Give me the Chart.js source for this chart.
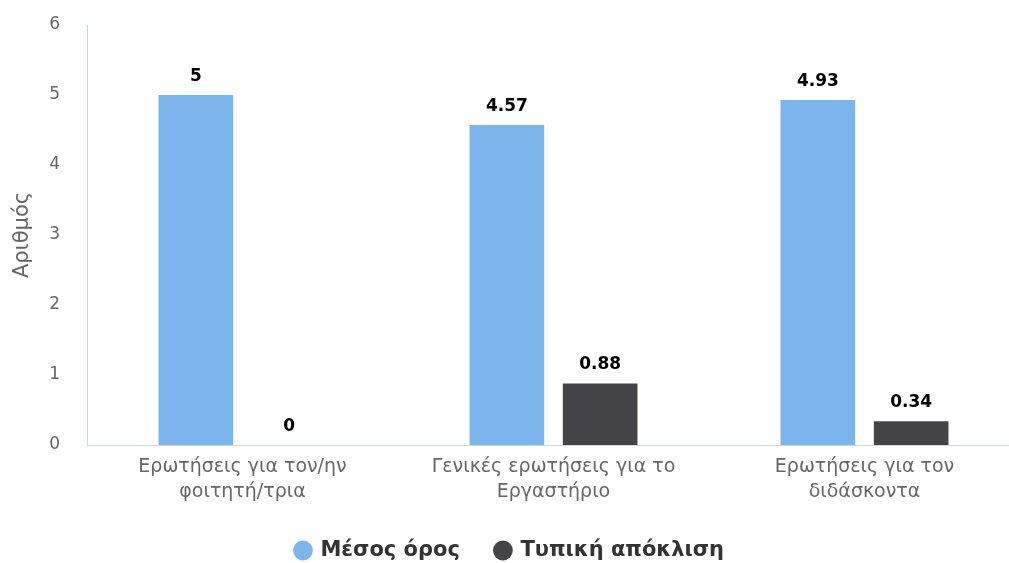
<!DOCTYPE html>
<html>
<head>
<meta charset="utf-8">
<script src="https://cdn.jsdelivr.net/npm/chart.js@4/dist/chart.umd.min.js"></script>
<style>
  html, body { margin: 0; padding: 0; background: #fff; overflow: hidden; }
  #chart { display: block; width: 1024px; height: 563px; }
</style>
</head>
<body>
<canvas id="chart" width="1024" height="563"></canvas>
<script>
// Μέσος όρος / Τυπική απόκλιση per question group
const categories = [
  ['Ερωτήσεις για τον/ην', 'φοιτητή/τρια'],
  ['Γενικές ερωτήσεις για το', 'Εργαστήριο'],
  ['Ερωτήσεις για τον', 'διδάσκοντα']
];
const meanValues = [5, 4.57, 4.93];
const stdValues = [0, 0.88, 0.34];
const yTicks = [0, 1, 2, 3, 4, 5, 6];

const FONT = 'DejaVu Sans, Verdana, sans-serif';

// draws the value over each bar
const valueLabels = {
  id: 'valueLabels',
  afterDatasetsDraw(chart) {
    const ctx = chart.ctx;
    ctx.save();
    ctx.font = 'bold 17px ' + FONT;
    ctx.fillStyle = '#000';
    ctx.textAlign = 'center';
    ctx.textBaseline = 'bottom';
    chart.data.datasets.forEach((ds, i) => {
      chart.getDatasetMeta(i).data.forEach((bar, j) => {
        ctx.fillText(String(ds.data[j]), bar.x, bar.y - 10);
      });
    });
    ctx.restore();
  }
};

new Chart(document.getElementById('chart'), {
  type: 'bar',
  data: {
    labels: categories,
    datasets: [
      { label: 'Μέσος όρος', data: meanValues, backgroundColor: '#7cb5ec' },
      { label: 'Τυπική απόκλιση', data: stdValues, backgroundColor: '#434348' }
    ]
  },
  options: {
    responsive: false,
    animation: false,
    categoryPercentage: 0.6,
    barPercentage: 0.8,
    layout: { padding: { top: 25, right: 4, left: 0, bottom: -8 } },
    plugins: {
      tooltip: { enabled: false },
      legend: {
        position: 'bottom',
        labels: {
          usePointStyle: true,
          pointStyle: 'circle',
          boxWidth: 14,
          boxHeight: 14,
          padding: 36,
          color: '#333',
          font: { family: FONT, size: 21, weight: 'bold' }
        }
      }
    },
    scales: {
      x: {
        afterFit: axis => { axis.height = 59; },
        grid: { display: false, drawTicks: false },
        border: { color: '#ccd6eb', width: 1 },
        ticks: {
          color: '#666',
          padding: 10,
          font: { family: FONT, size: 19, lineHeight: 1.3 },
          maxRotation: 0
        }
      },
      y: {
        min: 0,
        max: 6,
        afterBuildTicks: axis => { axis.ticks = yTicks.map(v => ({ value: v })); },
        afterFit: axis => {
          axis.width = 87;
          axis.paddingTop = 0;
          axis.paddingBottom = 0;
        },
        grid: { display: false, drawTicks: false },
        border: { color: '#ccd6eb', width: 1 },
        ticks: {
          color: '#666',
          padding: 27,
          font: { family: FONT, size: 17 }
        },
        title: {
          display: true,
          text: 'Αριθμός',
          color: '#666',
          padding: { top: 10 },
          font: { family: FONT, size: 21 }
        }
      }
    }
  },
  plugins: [valueLabels]
});
</script>
</body>
</html>
